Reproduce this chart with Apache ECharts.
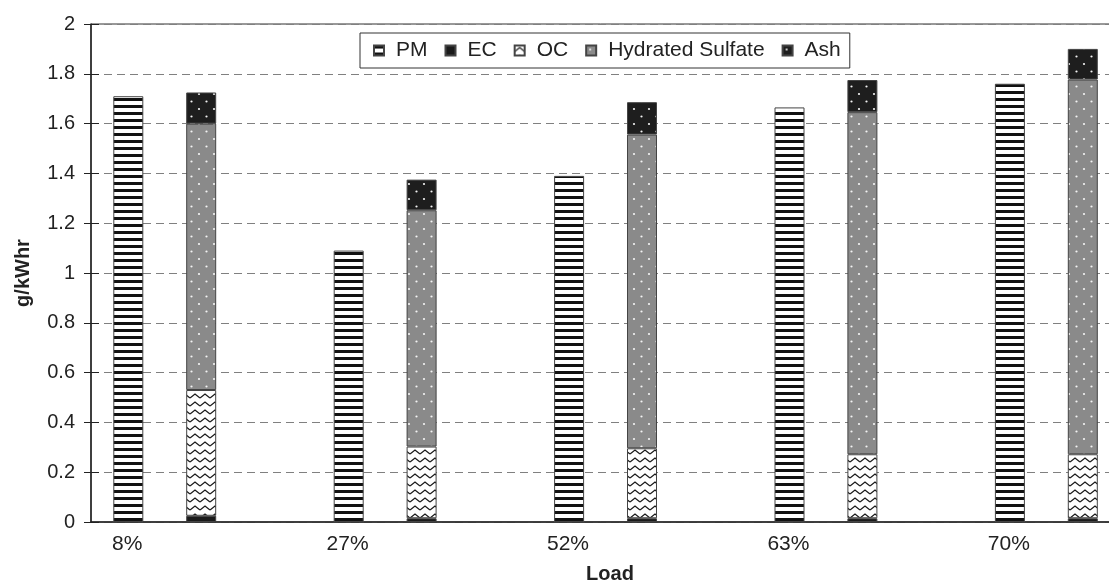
<!DOCTYPE html>
<html>
<head>
<meta charset="utf-8">
<style>
  html, body { margin: 0; padding: 0; background: #fff; }
  #chart { width: 1109px; height: 582px; }
</style>
<script src="https://cdn.jsdelivr.net/npm/echarts@6/dist/echarts.min.js"></script>
</head>
<body>
<div id="chart"></div>
<script>
// ---- data ----
var categories = ['8%', '27%', '52%', '63%', '70%'];
var pmValues   = [1.71, 1.09, 1.39, 1.665, 1.76];
var ecValues   = [0.025, 0.015, 0.015, 0.015, 0.015];
var ocValues   = [0.505, 0.288, 0.281, 0.257, 0.257];
var hsValues   = [1.07, 0.949, 1.26, 1.374, 1.505];
var ashValues  = [0.125, 0.123, 0.13, 0.129, 0.123];
var yTickLabels = ['0', '0.2', '0.4', '0.6', '0.8', '1', '1.2', '1.4', '1.6', '1.8', '2'];

// ---- patterns ----
function tile(w, h, draw) {
  var c = document.createElement('canvas');
  c.width = w; c.height = h;
  draw(c.getContext('2d'), w, h);
  return { image: c, repeat: 'repeat' };
}
var pmPattern = tile(8, 7, function (g, w, h) {
  g.fillStyle = '#fff'; g.fillRect(0, 0, w, h);
  g.fillStyle = '#111'; g.fillRect(0, 0, w, 3);
});
var ocPattern = tile(10, 8, function (g, w, h) {
  g.fillStyle = '#fff'; g.fillRect(0, 0, w, h);
  g.strokeStyle = '#1a1a1a'; g.lineWidth = 1.3;
  g.beginPath(); g.moveTo(0, 6); g.lineTo(5, 2); g.lineTo(10, 6); g.stroke();
});
function dotted(bg) {
  return tile(15, 15, function (g, w, h) {
    g.fillStyle = bg; g.fillRect(0, 0, w, h);
    g.fillStyle = '#f4f4f4';
    g.beginPath(); g.arc(4, 4, 1.1, 0, Math.PI * 2); g.fill();
    g.beginPath(); g.arc(11.5, 11.5, 1.1, 0, Math.PI * 2); g.fill();
  });
}
var hsPattern = dotted('#8a8a8a');
var ashPattern = dotted('#1e1e1e');

var fontFam = '"Liberation Sans", Arial, sans-serif';
var barStyle = function (color) {
  return { color: color, borderColor: '#444', borderWidth: 1 };
};

var chart = echarts.init(document.getElementById('chart'), null, { renderer: 'canvas' });
chart.setOption({
  animation: false,
  backgroundColor: '#fff',
  textStyle: { fontFamily: fontFam },
  title: {
    text: 'Load', left: 605, top: 559, textAlign: 'center',
    textStyle: { fontFamily: fontFam, fontSize: 20, fontWeight: 'bold', color: '#222' }
  },
  legend: {
    left: 360, top: 33,
    padding: [7, 9, 7, 13],
    itemGap: 17, itemWidth: 10, itemHeight: 10,
    icon: 'rect',
    borderColor: '#333', borderWidth: 1, backgroundColor: '#fff',
    textStyle: { fontFamily: fontFam, fontSize: 21, color: '#222', padding: [0, 0, 0, 7] },
    data: [
      'PM', 'EC', 'OC',
      { name: 'Hydrated Sulfate', textStyle: { padding: [0, 10, 0, 7] } },
      'Ash'
    ]
  },
  grid: {
    left: 91, top: 24, height: 498, width: 1102,
    containLabel: false, outerBoundsMode: 'none',
    show: true, borderColor: '#333', borderWidth: 1, backgroundColor: 'transparent'
  },
  xAxis: {
    type: 'category',
    data: categories,
    axisLine: { lineStyle: { color: '#222', width: 1.5 } },
    axisTick: { show: false },
    axisLabel: {
      fontFamily: fontFam, fontSize: 21, color: '#222', margin: 12,
      padding: [0, 148, 0, 0]
    },
    splitLine: { show: false }
  },
  yAxis: [{
    type: 'value', min: 0, max: 2, interval: 0.2,
    name: 'g/kWhr', nameLocation: 'middle', nameGap: 58,
    nameTextStyle: { fontFamily: fontFam, fontSize: 20, fontWeight: 'bold', color: '#222' },
    axisLine: { show: true, lineStyle: { color: '#222', width: 1.5 } },
    axisTick: { show: true, length: 7, lineStyle: { color: '#222' } },
    axisLabel: {
      fontFamily: fontFam, fontSize: 20, color: '#222', margin: 16,
      formatter: function (v) { return yTickLabels[Math.round(v / 0.2)]; }
    },
    splitLine: { show: true, lineStyle: { color: '#808080', type: [8, 5], width: 1 } }
  }, {
    type: 'value', min: 0, max: 2, interval: 0.2, position: 'left',
    axisLine: { show: false },
    axisTick: { show: true, inside: true, length: 8, lineStyle: { color: '#222' } },
    axisLabel: { show: false },
    splitLine: { show: false }
  }],
  series: [
    { name: 'PM', type: 'bar', barWidth: 30, barGap: '143%', data: pmValues, itemStyle: barStyle(pmPattern) },
    { name: 'EC', type: 'bar', stack: 'comp', barWidth: 30, data: ecValues, itemStyle: barStyle('#1a1a1a') },
    { name: 'OC', type: 'bar', stack: 'comp', barWidth: 30, data: ocValues, itemStyle: barStyle(ocPattern) },
    { name: 'Hydrated Sulfate', type: 'bar', stack: 'comp', barWidth: 30, data: hsValues, itemStyle: barStyle(hsPattern) },
    { name: 'Ash', type: 'bar', stack: 'comp', barWidth: 30, data: ashValues, itemStyle: barStyle(ashPattern) },
    { name: 'spacer', type: 'bar', barWidth: 30, barGap: '143%', data: [] }
  ]
});
</script>
</body>
</html>
